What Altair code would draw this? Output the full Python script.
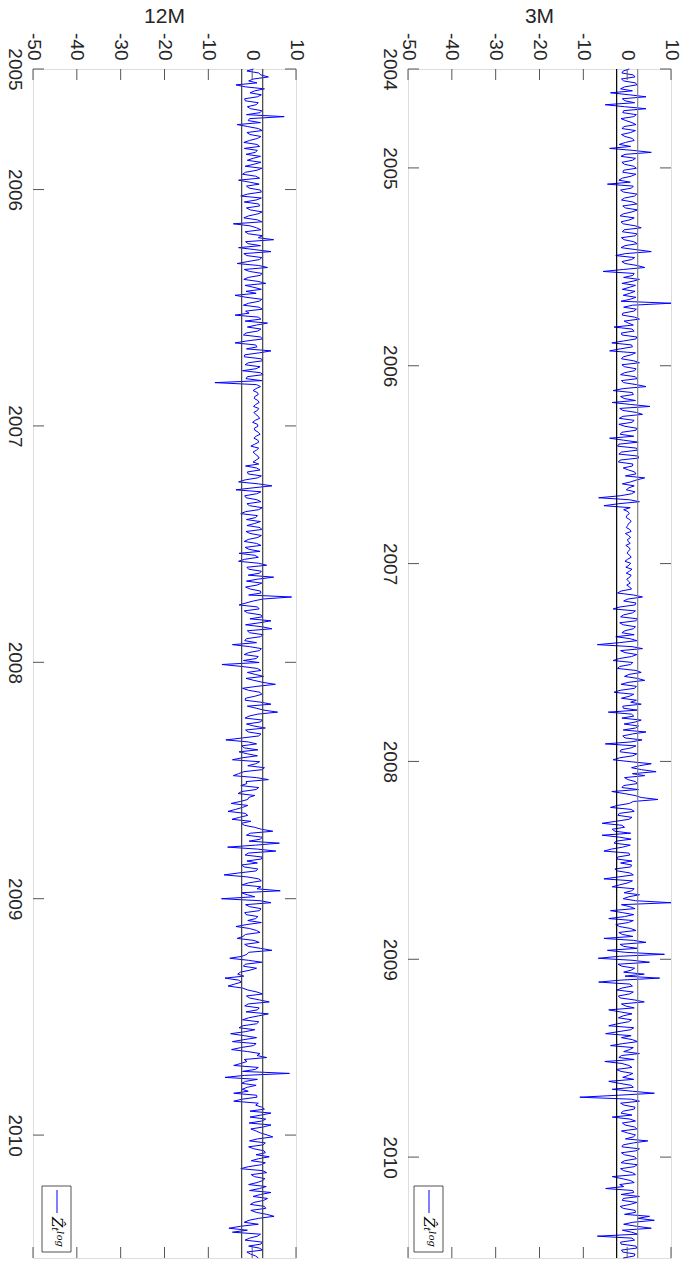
import altair as alt
import pandas as pd

# ---------------- data ----------------
# 3M panel, mid-2004 .. mid-2010 ; "a" = main readings, "b" = readings in between
s1_3m = [
    0.5, -1.2, 1.8, -0.8, 2.2, -1.5, -3.8, 4.3, -0.5, -5.0,
    4.3, -1.0, 1.5, -0.3, 2.0, -1.2, 0.8, -0.5, 1.6, -1.8,
    -4.0, 5.5, -1.4, 1.2, -0.6, 2.1, -1.0, 0.9, -1.9, -4.5,
    1.0, -0.8, 1.7, -1.3, 2.2, -0.4, 1.1, -1.6, 0.6, -0.9,
    3.2, -1.1, 1.9, -0.7, 2.3, -1.4, 5.5, -2.6, 1.0, -0.5,
    4.0, -5.5, 1.3, 2.8, -1.2, 0.5, 1.8, -0.9, 0.7, 10.0,
    -0.8, 1.5, -1.1, 2.8, 0.3, -3.0, 1.6, -1.2, 2.0, -3.5,
    1.2, -4.0, 0.9, -1.3, 2.8, -0.6, 1.7, -1.5, 2.3, -0.8,
    4.3, -3.2, 1.4, -0.7, -3.4, 5.2, -1.0, 3.5, -1.8, 1.1,
    -0.5, 2.0, -1.6, -4.0, 2.5, -2.2, 2.4, -1.9, 2.6, -2.0,
]
s1_3m_b = [
    -0.9, 1.4, -1.3, 1.9, -0.6, 1.2, 0.5, -1.1, 1.7, -0.6,
    -0.8, 2.1, -1.4, 1.1, -0.7, 1.9, -1.3, 1.2, -0.4, 0.8,
    1.3, -0.5, 1.9, -1.2, 1.5, -0.8, 2.0, -1.1, 0.7, 1.4,
    -1.5, 2.2, -0.6, 1.3, -1.0, 2.4, -0.9, 1.6, -1.4, 1.8,
    -0.7, 2.2, -1.3, 1.5, -0.5, 2.0, -0.4, 1.7, -1.2, 2.3,
    -0.9, 1.6, -0.8, 1.1, 1.9, -1.1, 0.6, 2.0, -1.4, 1.2,
    2.1, -1.0, 1.7, -0.7, 1.4, 1.1, -1.3, 2.2, -0.8, 1.0,
    -1.6, 1.9, -0.9, 1.5, -1.2, 2.0, -0.6, 1.8, -1.3, 2.1,
    -0.9, 1.2, -1.5, 1.9, 0.8, -1.7, 2.1, -1.0, 1.6, -1.9,
    2.2, -1.2, 1.5, -0.8, -1.9, 2.1, -1.3, 2.5, -1.6, 1.3,
]
s2_3m = [
    1.2, 0.3, 2.0, 4.0, 0.8, 1.6, -0.2, 1.0, -6.5, 2.8,
    -5.3, -0.8, 0.5, -0.2, 0.9, 0.1, 0.6, -0.4, 0.8, 0.2,
    -0.3, 0.7, 0.0, 0.9, -0.5, 0.4, 1.1, -0.2, 0.6, 0.3,
    -0.1, 1.0, -2.2, 3.5, -0.8, 1.8, -3.2, 1.2, -1.5, 2.0,
    -0.9, 1.4, -1.2, -2.6, 2.2, -6.8, 3.5, -0.5, 1.0, -3.2,
    0.8, -2.2, 3.2, -0.6, 4.0, -1.4, 1.7, -3.0, 0.5, 2.1,
    3.2, -0.9, -4.3, 1.5, 3.2, -0.7, 1.9, 4.3, -1.0, 3.4,
    -5.0, 0.9, -1.6, 1.3, -3.2, 5.5, 1.0, 6.6, 4.0, 0.2,
    2.3, -1.2, -3.5, 1.8, 7.0, 0.5, -3.8, 1.6, -2.1, 0.4,
    -5.7, -0.6, -2.8, -5.7, 0.9, -3.0, -1.0, -5.3, 0.6, -2.4,
]
s2_3m_b = [
    -0.9, 1.7, -0.4, 2.2, -1.1, 0.4, 1.8, -1.6, 0.5, -1.9,
    0.7, 0.2, -0.1, 0.6, 0.3, -0.2, 0.9, 0.3, 0.1, 0.7,
    0.4, 0.2, 0.6, 0.1, 0.8, -0.3, 0.5, 0.9, -0.1, 0.7,
    0.6, -1.4, 1.5, 0.2, 2.0, -1.6, 1.9, -0.8, 2.4, -1.7,
    1.9, -0.5, 1.6, 0.7, -1.8, 1.1, -1.5, 2.2, -1.8, 1.3,
    -1.7, 2.0, 0.4, 2.3, 0.2, 2.1, -1.6, 1.5, -1.3, 0.8,
    -1.0, 2.3, 1.0, -1.2, 1.8, 2.6, -0.9, 1.2, -0.5, 0.9,
    2.0, -1.4, 2.2, -1.7, 0.9, 2.8, 3.3, 1.2, -0.6, 1.9,
    -0.8, 2.6, -0.7, 3.2, 1.4, -2.2, 0.9, -1.8, 1.1, -2.6,
    -1.2, -3.4, 0.8, -1.7, -2.5, 0.7, -3.6, 0.4, -2.2, 1.1,
]
s3_3m = [
    -1.5, 0.8, -2.2, 1.4, -5.3, 0.2, -3.4, 1.0, 2.8, -0.9,
    10.0, 0.6, -3.8, 1.5, -4.2, 0.3, -1.8, 2.0, -1.1, -5.3,
    4.3, -0.8, -4.5, 8.5, -6.6, 5.1, -1.2, 0.9, 3.9, 7.4,
    -6.5, 1.2, -2.3, 0.5, -1.6, 3.9, -0.4, -4.2, 1.1, -2.0,
    0.3, -4.2, 0.8, -4.9, -1.3, 2.4, -3.8, 0.6, 2.8, -1.9,
    -5.1, 0.4, -2.5, 1.3, -1.0, -4.2, 0.9, -3.4, 6.2, -10.8,
    2.8, -0.7, 1.6, -1.4, -3.4, 1.9, -0.5, 2.2, 0.1, 1.4,
    4.7, -0.9, 2.8, -1.3, 1.7, -0.6, 2.3, -1.5, 1.2, -3.4,
    0.8, -1.7, -4.9, 1.5, 2.8, -1.1, 0.7, -0.9, 1.9, 5.1,
    6.2, -0.8, 5.5, 1.0, -6.8, 1.7, -1.4, 2.2, -1.0, 1.6,
]
s3_3m_b = [
    1.0, -2.8, 0.6, -1.9, 1.2, -1.7, 1.6, -0.7, 0.4, 1.9,
    -1.3, 1.8, -1.1, -0.6, 1.4, -2.6, 0.8, -1.9, 1.3, 1.5,
    -1.6, 2.3, -0.4, -1.8, 1.1, -2.1, 1.7, -0.8, -0.5, -1.4,
    0.6, -1.2, 1.4, -2.0, 1.7, -1.3, 1.6, -1.6, -0.9, 1.0,
    -2.2, 1.5, -2.1, 0.9, 1.2, -1.0, 1.4, -0.8, -1.3, 1.6,
    -1.2, 1.1, -1.4, 0.3, 1.5, -1.8, 1.4, 1.2, -2.0, 1.0,
    -1.5, 1.8, -0.9, 1.1, 0.6, -1.1, 1.7, -1.3, 1.9, -0.4,
    1.5, -1.2, 2.0, -0.6, 2.1, -1.4, 1.6, -0.8, 1.9, -1.2,
    1.6, -0.8, 1.3, -1.4, -0.9, 2.2, -1.6, 1.8, -0.6, 2.4,
    1.3, 2.1, -1.1, 2.4, 1.1, -1.5, 2.0, -1.3, 1.8, -0.9,
]

# 12M panel, mid-2005 .. mid-2010
s1_12m = [
    0.3, 1.5, 3.7, -0.8, -3.7, 2.8, -0.5, 1.2, -1.6, 0.9,
    -0.4, 1.8, 7.3, -0.9, -3.4, 1.4, -1.2, 2.0, -0.6, 1.1,
    -1.8, 0.7, 1.9, -1.1, 0.4, 2.2, -1.5, 0.8, -3.1, 1.6,
    -0.7, 2.1, -2.6, 0.9, 1.5, -1.3, 2.3, -0.8, 1.2, -4.3,
    1.0, -1.6, 2.4, 4.9, -0.9, -3.1, 4.3, -1.2, 1.7, -3.4,
    3.5, -0.6, 1.8, -1.9, 3.1, 0.4, -1.4, -3.9, 2.2, -0.8,
    1.6, -1.5, -3.9, 2.0, 3.5, -1.1, 1.3, -2.0, 2.4, -3.9,
    1.1, 4.3, -1.7, 2.1, -0.9, 1.8, -2.2, 2.5, -1.4, -8.5,
    1.9, 0.2, 1.4, 0.5, 1.6, 0.3, 1.2, 0.8, 1.7, 0.1,
    1.3, 0.6, 1.8, 0.4, 1.5, -0.3, 1.0, 0.7, 1.6, 0.2,
]
s1_12m_b = [
    -1.2, 2.0, 0.4, 1.1, -1.5, 0.6, 2.1, -1.7, 1.4, -1.1,
    2.2, -1.3, -0.6, 1.9, -1.0, 2.3, -0.5, 1.2, -1.9, 1.7,
    1.2, -1.4, 0.2, 2.0, -1.6, 1.1, -2.2, 1.7, -0.6, -1.3,
    1.9, -1.0, 2.1, -1.8, 1.7, -0.4, 1.3, -1.9, 2.2, -0.5,
    2.0, -0.9, 1.4, -1.5, 1.9, 0.6, -1.9, 2.2, -1.0, 1.5,
    -1.8, 2.3, -0.9, 1.3, -1.6, 2.1, 0.9, -1.4, 1.6, -2.0,
    2.3, -0.7, 1.4, -1.6, 1.0, 2.0, -1.4, 1.9, -1.2, 0.8,
    -1.3, 1.6, -1.8, 2.4, -1.6, 0.9, 1.9, -1.1, 2.2, 1.0,
    0.9, 1.2, 0.6, 1.3, 0.8, 1.5, 0.4, 1.4, 0.7, 1.2,
    0.5, 1.4, 0.9, 1.3, 0.6, 1.5, 0.2, 1.3, 0.9, 1.5,
]
s2_12m = [
    -1.5, 1.8, -0.9, 1.2, -3.1, 4.5, -3.7, 1.0, -1.4, 2.0,
    -0.6, 1.5, -2.6, 0.8, 1.9, -1.2, 2.2, -0.5, 1.3, -1.8,
    2.0, -0.7, -3.0, 1.4, -3.1, 3.3, -0.8, 1.7, 4.9, -1.3,
    1.1, -0.4, 2.0, 9.0, 0.3, -3.0, 1.6, -1.0, 2.3, 4.3,
    -1.5, 4.5, -0.6, 1.9, -1.7, -4.5, 2.1, -0.8, 1.4, -2.0,
    -6.9, 1.2, -1.1, 2.6, 0.4, 5.3, -2.2, 1.8, 0.6, -1.6,
    4.3, 0.9, 5.8, -0.7, 2.4, -1.3, 3.0, -0.9, 1.5, -6.0,
    1.0, -1.8, -3.0, 1.2, -4.5, 0.8, 2.8, -1.9, -4.3, 3.7,
    -1.2, 1.5, -2.4, 0.6, -1.0, -4.8, -2.2, -5.5, -1.0, -4.6,
    -2.5, 0.5, 4.7, -1.3, 1.9, 6.2, -5.6, 5.4, -1.6, 2.1,
]
s2_12m_b = [
    1.0, -1.1, 2.1, -1.6, 1.4, 0.2, 2.0, -1.7, 1.1, -1.2,
    2.3, -1.5, 1.2, -1.3, 0.5, 1.8, -1.4, 2.1, -0.9, 1.0,
    -1.6, 1.8, 0.6, -1.7, 1.5, -1.2, 2.1, -0.9, 1.3, 2.2,
    -1.5, 1.9, -0.8, 2.5, -1.4, 1.2, -1.8, 2.0, -0.5, 1.6,
    2.2, -1.1, 2.5, -1.3, 1.0, -0.6, 1.7, -1.8, 0.9, 1.6,
    -2.3, 2.0, 0.7, -1.4, 2.4, 1.1, -0.8, 2.2, -1.5, 2.0,
    -1.1, 2.7, 1.3, -1.6, 1.8, 0.4, -1.5, 2.0, -2.2, -0.9,
    -2.4, 1.3, -1.1, -2.3, 1.7, -1.0, 2.2, -3.1, 1.0, -1.4,
    -2.6, 0.9, -3.2, -0.8, -2.7, -1.0, -3.8, -1.6, -2.9, -0.3,
    -1.8, 2.1, -0.4, 2.3, -0.7, 0.8, 1.2, -0.9, 2.3, -1.2,
]
s3_12m = [
    1.2, -1.8, 0.9, -6.4, 1.5, -0.8, 2.0, 6.4, -1.1, -7.0,
    4.3, -0.6, 1.7, -1.4, 0.8, 2.1, -3.7, 1.0, -1.5, -3.4,
    1.6, -0.9, 4.5, -1.2, -5.1, 2.2, -2.0, -0.5, -3.3, -6.2,
    -2.4, -5.5, -1.0, 2.4, -0.6, 3.9, -1.7, 1.2, 3.7, -0.8,
    1.5, -2.1, 0.6, -4.9, 1.0, -4.5, 0.3, -4.7, 1.8, 3.3,
    -1.2, -4.2, 0.7, 8.5, -6.2, -1.5, 0.9, -2.3, -4.2, 1.1,
    -4.2, 0.8, 2.8, 4.3, -0.5, 2.2, 4.3, -0.3, 1.9, 4.7,
    -0.6, 2.5, 0.4, 3.0, 3.9, -0.2, 2.1, -2.6, 3.3, 0.5,
    2.4, -0.8, 1.7, 4.3, 0.2, 2.6, -0.4, 3.1, 0.9, 5.0,
    -0.7, 1.4, -5.3, -4.5, 1.2, -1.6, 2.0, 1.6, -1.2, 0.8,
]
s3_12m_b = [
    -2.4, 1.3, -3.0, -1.2, 2.1, -2.3, 1.1, -2.5, 0.6, 1.8,
    -1.5, 2.0, -1.7, 1.3, -1.0, -1.2, -0.6, 1.8, -2.1, 0.4,
    -1.7, 1.9, -0.8, -2.3, -0.9, -1.6, 1.0, -2.7, -1.9, -3.1,
    -4.0, -2.2, 1.1, -1.3, 1.7, -0.9, 1.6, -1.4, 1.5, -2.2,
    1.0, -3.0, -1.6, -1.8, -1.9, 0.9, -2.6, -1.0, 1.1, -1.8,
    -2.6, 1.4, -2.2, -1.7, 1.2, -2.4, -1.1, -0.9, 1.0, -2.3,
    1.4, 2.2, -0.5, 2.0, 3.1, -0.7, 2.5, 0.9, 3.4, 1.2,
    3.0, -0.8, 2.7, 0.9, 1.4, 3.0, -0.9, 2.4, -0.2, 2.9,
    1.1, 3.2, -0.6, 1.9, 3.5, 0.4, 2.8, -0.3, 3.3, 1.5,
    -1.8, -2.6, -1.1, 1.9, -0.6, 2.3, -0.8, 2.4, -0.4, 1.4,
]


def weave(a, b):
    out = []
    for x, y in zip(a, b):
        out += [x, y]
    return out


values_3m = weave(s1_3m, s1_3m_b) + weave(s2_3m, s2_3m_b) + weave(s3_3m, s3_3m_b)
values_12m = weave(s1_12m, s1_12m_b) + weave(s2_12m, s2_12m_b) + weave(s3_12m, s3_12m_b)

span_3m = [2004.5, 2010.51]
span_12m = [2005.49, 2010.52]
years_3m = [2004.5, 2005, 2006, 2007, 2008, 2009, 2010]
years_12m = [2005.49, 2006, 2007, 2008, 2009, 2010]
value_ticks = [-50, -40, -30, -20, -10, 0, 10]
thresholds = [-2.4, 2.4]
legend_label = "Ẑₜˡᵒᵍ"

# ---------------- layout / style ----------------
W, H = 263, 1189
FONT = "Liberation Sans"
LABEL_SIZE = 19
LABEL_COLOR = "#262626"
TICK_LEN = 11
TICK_COLOR = "#555555"


def panel(values, span, years, title, thr_colors, legend_x):
    n = len(values)
    step = (span[1] - span[0]) / (n - 1)
    df = pd.DataFrame({"t": [span[0] + i * step for i in range(n)], "v": values})

    xscale = alt.Scale(domain=[-50, 10], nice=False, zero=False)
    yscale = alt.Scale(domain=span, reverse=True, nice=False, zero=False)

    xaxis = alt.Axis(
        orient="top", values=value_ticks, labelAngle=90, labelAlign="right",
        labelBaseline="middle", labelPadding=9, ticks=False, domain=False,
        grid=False, labelExpr="toString(datum.value)", labelOverlap=False,
        labelFlush=False, title=None, labelFont=FONT, labelFontSize=LABEL_SIZE,
        labelColor=LABEL_COLOR,
    )
    yaxis = alt.Axis(
        orient="left", values=years, labelAngle=90, labelAlign="center",
        labelBaseline="top", labelPadding=10, ticks=False, domain=False,
        grid=False, labelExpr="toString(floor(datum.value))", labelOverlap=False,
        labelFlush=False, title=None, labelFont=FONT, labelFontSize=LABEL_SIZE,
        labelColor=LABEL_COLOR,
    )

    line = alt.Chart(df).mark_line(color="#0000ff", strokeWidth=1).encode(
        x=alt.X("v:Q", scale=xscale, axis=xaxis),
        y=alt.Y("t:Q", scale=yscale, axis=yaxis),
        order="t:Q",
    )

    thr_df = pd.DataFrame({"thr": thresholds, "c": thr_colors})
    thr = alt.Chart(thr_df).mark_rule(strokeWidth=1.2).encode(
        x=alt.X("thr:Q", scale=xscale, axis=xaxis),
        color=alt.Color("c:N", scale=None),
    )

    xt_df = pd.DataFrame({"xt": value_ticks})
    top_ticks = alt.Chart(xt_df).mark_rule(color=TICK_COLOR).encode(
        x=alt.X("xt:Q", scale=xscale, axis=xaxis), y=alt.value(0), y2=alt.value(TICK_LEN)
    )
    bot_ticks = alt.Chart(xt_df).mark_rule(color=TICK_COLOR).encode(
        x=alt.X("xt:Q", scale=xscale, axis=xaxis), y=alt.value(H - TICK_LEN), y2=alt.value(H)
    )
    yt_df = pd.DataFrame({"yt": years})
    left_ticks = alt.Chart(yt_df).mark_rule(color=TICK_COLOR).encode(
        y=alt.Y("yt:Q", scale=yscale, axis=yaxis), x=alt.value(0), x2=alt.value(TICK_LEN)
    )
    right_ticks = alt.Chart(yt_df).mark_rule(color=TICK_COLOR).encode(
        y=alt.Y("yt:Q", scale=yscale, axis=yaxis), x=alt.value(W - TICK_LEN), x2=alt.value(W)
    )

    one = pd.DataFrame({"a": [0]})
    leg_box = alt.Chart(one).mark_rect(fill="white", stroke="#262626", strokeWidth=0.8).encode(
        x=alt.value(legend_x), x2=alt.value(legend_x + 29),
        y=alt.value(H - 72), y2=alt.value(H - 6),
    )
    leg_line = alt.Chart(one).mark_rule(color="#0000ff", strokeWidth=1).encode(
        x=alt.value(legend_x + 15), y=alt.value(H - 68), y2=alt.value(H - 45),
    )
    leg_text = alt.Chart(one).mark_text(
        angle=90, align="left", baseline="middle", font="DejaVu Serif",
        fontStyle="italic", fontSize=15, color="#000000",
    ).encode(
        x=alt.value(legend_x + 15), y=alt.value(H - 41), text=alt.value(legend_label),
    )

    return alt.layer(
        line, thr, top_ticks, bot_ticks, left_ticks, right_ticks,
        leg_box, leg_line, leg_text,
    ).properties(
        width=W, height=H,
        title=alt.TitleParams(title, fontSize=21, font=FONT, color="#262626",
                              fontWeight="normal", offset=6),
    )


p12 = panel(values_12m, span_12m, years_12m, "12M", ["#404040", "#404040"], 9)
p3 = panel(values_3m, span_3m, years_3m, "3M", ["#000000", "#808080"], 6)

chart = alt.hconcat(p12, p3, spacing=72).properties(
    padding={"left": 3, "top": 5, "right": 0, "bottom": 0},
).configure_view(
    stroke="#808080", strokeWidth=1,
).configure(background="white")

chart.save("out.html", embed_options={"renderer": "svg", "actions": False})
